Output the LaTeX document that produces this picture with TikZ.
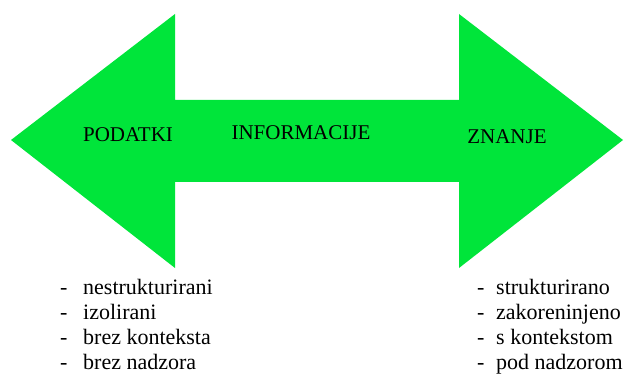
\documentclass[tikz,border=0pt]{standalone}
\usepackage{fontspec}
\setmainfont{Liberation Serif}
\newfontfamily\timesfont{Liberation Serif}
\usepackage{xcolor}
\usetikzlibrary{positioning}

\definecolor{arrowgreen}{RGB}{0,229,58}

\tikzset{
	arrowlabel/.style={inner sep=0pt, font=\timesfont\fontsize{21}{25}\selectfont},
	listitem/.style={inner sep=0pt, anchor=base west, font=\timesfont\fontsize{22}{25}\selectfont}
}
\newcommand{\dashitem}[2][23pt]{\makebox[#1][l]{-}#2}

\begin{document}
\begin{tikzpicture}[x=1pt,y=-1pt]
	\useasboundingbox (0,0) rectangle (626,374);

	% Double arrow
	\fill[arrowgreen] (11,140) -- (175,14) -- (175,100) -- (459,100) -- (459,14)
		-- (623,140) -- (459,268) -- (459,182) -- (175,182) -- (175,268) -- cycle;

	% Labels on the arrow
	\node[arrowlabel] (podatki) at (128,135) {PODATKI};
	\node[arrowlabel] (informacije) at (301,133) {INFORMACIJE};
	\node[arrowlabel] (znanje) at (507,137) {ZNANJE};

	% Left list
	\node[listitem] (nestr) at (60,294) {\dashitem{nestrukturirani}};
	\node[listitem] (izol) at (60,319) {\dashitem{izolirani}};
	\node[listitem] (brezkont) at (60,344) {\dashitem{brez konteksta}};
	\node[listitem] (breznadz) at (60,369) {\dashitem{brez nadzora}};

	% Right list
	\node[listitem] (strukt) at (477,294) {\dashitem[19pt]{strukturirano}};
	\node[listitem] (zakor) at (477,319) {\dashitem[19pt]{zakoreninjeno}};
	\node[listitem] (skont) at (477,344) {\dashitem[19pt]{s kontekstom}};
	\node[listitem] (podnadz) at (477,369) {\dashitem[19pt]{pod nadzorom}};
\end{tikzpicture}
\end{document}
